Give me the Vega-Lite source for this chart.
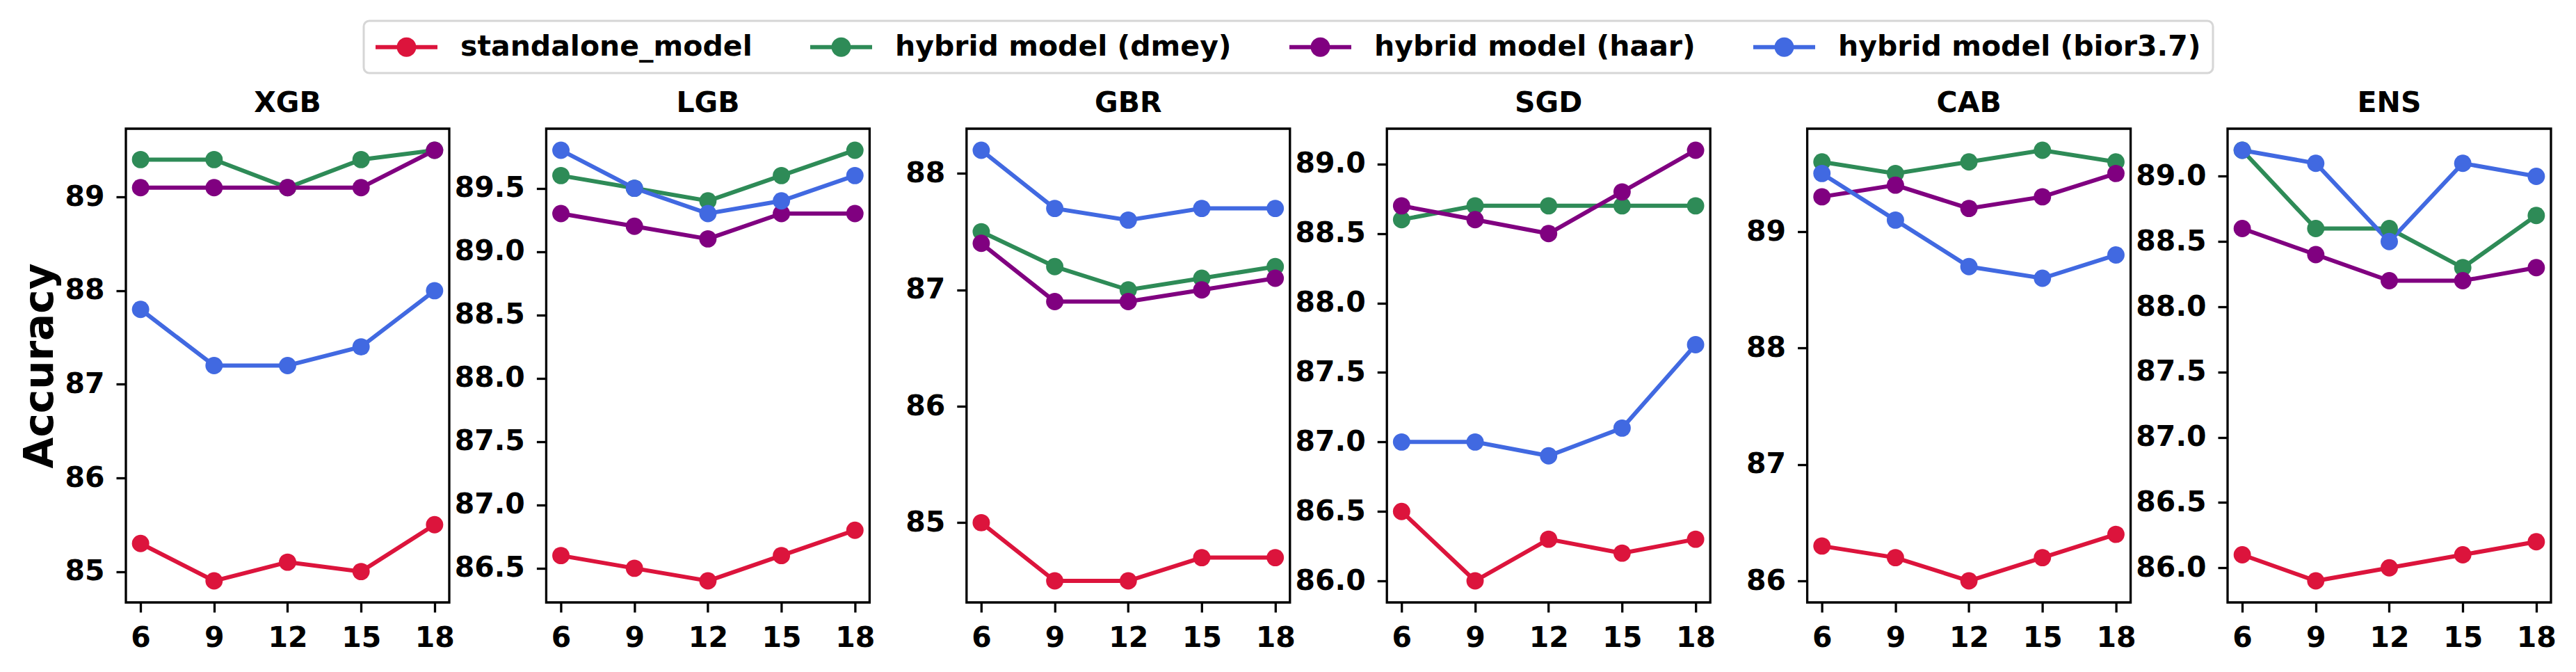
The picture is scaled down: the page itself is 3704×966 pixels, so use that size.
{
  "$schema": "https://vega.github.io/schema/vega-lite/v6.json",
  "background": "white",
  "padding": {"left": 28, "top": 28, "right": 38, "bottom": 30},
  "datasets": {
    "acc": [
      {"model": "XGB", "series": "standalone_model", "window": 6, "accuracy": 85.3},
      {"model": "XGB", "series": "standalone_model", "window": 9, "accuracy": 84.9},
      {"model": "XGB", "series": "standalone_model", "window": 12, "accuracy": 85.1},
      {"model": "XGB", "series": "standalone_model", "window": 15, "accuracy": 85.0},
      {"model": "XGB", "series": "standalone_model", "window": 18, "accuracy": 85.5},
      {"model": "XGB", "series": "hybrid model (dmey)", "window": 6, "accuracy": 89.4},
      {"model": "XGB", "series": "hybrid model (dmey)", "window": 9, "accuracy": 89.4},
      {"model": "XGB", "series": "hybrid model (dmey)", "window": 12, "accuracy": 89.1},
      {"model": "XGB", "series": "hybrid model (dmey)", "window": 15, "accuracy": 89.4},
      {"model": "XGB", "series": "hybrid model (dmey)", "window": 18, "accuracy": 89.5},
      {"model": "XGB", "series": "hybrid model (haar)", "window": 6, "accuracy": 89.1},
      {"model": "XGB", "series": "hybrid model (haar)", "window": 9, "accuracy": 89.1},
      {"model": "XGB", "series": "hybrid model (haar)", "window": 12, "accuracy": 89.1},
      {"model": "XGB", "series": "hybrid model (haar)", "window": 15, "accuracy": 89.1},
      {"model": "XGB", "series": "hybrid model (haar)", "window": 18, "accuracy": 89.5},
      {"model": "XGB", "series": "hybrid model (bior3.7)", "window": 6, "accuracy": 87.8},
      {"model": "XGB", "series": "hybrid model (bior3.7)", "window": 9, "accuracy": 87.2},
      {"model": "XGB", "series": "hybrid model (bior3.7)", "window": 12, "accuracy": 87.2},
      {"model": "XGB", "series": "hybrid model (bior3.7)", "window": 15, "accuracy": 87.4},
      {"model": "XGB", "series": "hybrid model (bior3.7)", "window": 18, "accuracy": 88.0},

      {"model": "LGB", "series": "standalone_model", "window": 6, "accuracy": 86.6},
      {"model": "LGB", "series": "standalone_model", "window": 9, "accuracy": 86.5},
      {"model": "LGB", "series": "standalone_model", "window": 12, "accuracy": 86.4},
      {"model": "LGB", "series": "standalone_model", "window": 15, "accuracy": 86.6},
      {"model": "LGB", "series": "standalone_model", "window": 18, "accuracy": 86.8},
      {"model": "LGB", "series": "hybrid model (dmey)", "window": 6, "accuracy": 89.6},
      {"model": "LGB", "series": "hybrid model (dmey)", "window": 9, "accuracy": 89.5},
      {"model": "LGB", "series": "hybrid model (dmey)", "window": 12, "accuracy": 89.4},
      {"model": "LGB", "series": "hybrid model (dmey)", "window": 15, "accuracy": 89.6},
      {"model": "LGB", "series": "hybrid model (dmey)", "window": 18, "accuracy": 89.8},
      {"model": "LGB", "series": "hybrid model (haar)", "window": 6, "accuracy": 89.3},
      {"model": "LGB", "series": "hybrid model (haar)", "window": 9, "accuracy": 89.2},
      {"model": "LGB", "series": "hybrid model (haar)", "window": 12, "accuracy": 89.1},
      {"model": "LGB", "series": "hybrid model (haar)", "window": 15, "accuracy": 89.3},
      {"model": "LGB", "series": "hybrid model (haar)", "window": 18, "accuracy": 89.3},
      {"model": "LGB", "series": "hybrid model (bior3.7)", "window": 6, "accuracy": 89.8},
      {"model": "LGB", "series": "hybrid model (bior3.7)", "window": 9, "accuracy": 89.5},
      {"model": "LGB", "series": "hybrid model (bior3.7)", "window": 12, "accuracy": 89.3},
      {"model": "LGB", "series": "hybrid model (bior3.7)", "window": 15, "accuracy": 89.4},
      {"model": "LGB", "series": "hybrid model (bior3.7)", "window": 18, "accuracy": 89.6},

      {"model": "GBR", "series": "standalone_model", "window": 6, "accuracy": 85.0},
      {"model": "GBR", "series": "standalone_model", "window": 9, "accuracy": 84.5},
      {"model": "GBR", "series": "standalone_model", "window": 12, "accuracy": 84.5},
      {"model": "GBR", "series": "standalone_model", "window": 15, "accuracy": 84.7},
      {"model": "GBR", "series": "standalone_model", "window": 18, "accuracy": 84.7},
      {"model": "GBR", "series": "hybrid model (dmey)", "window": 6, "accuracy": 87.5},
      {"model": "GBR", "series": "hybrid model (dmey)", "window": 9, "accuracy": 87.2},
      {"model": "GBR", "series": "hybrid model (dmey)", "window": 12, "accuracy": 87.0},
      {"model": "GBR", "series": "hybrid model (dmey)", "window": 15, "accuracy": 87.1},
      {"model": "GBR", "series": "hybrid model (dmey)", "window": 18, "accuracy": 87.2},
      {"model": "GBR", "series": "hybrid model (haar)", "window": 6, "accuracy": 87.4},
      {"model": "GBR", "series": "hybrid model (haar)", "window": 9, "accuracy": 86.9},
      {"model": "GBR", "series": "hybrid model (haar)", "window": 12, "accuracy": 86.9},
      {"model": "GBR", "series": "hybrid model (haar)", "window": 15, "accuracy": 87.0},
      {"model": "GBR", "series": "hybrid model (haar)", "window": 18, "accuracy": 87.1},
      {"model": "GBR", "series": "hybrid model (bior3.7)", "window": 6, "accuracy": 88.2},
      {"model": "GBR", "series": "hybrid model (bior3.7)", "window": 9, "accuracy": 87.7},
      {"model": "GBR", "series": "hybrid model (bior3.7)", "window": 12, "accuracy": 87.6},
      {"model": "GBR", "series": "hybrid model (bior3.7)", "window": 15, "accuracy": 87.7},
      {"model": "GBR", "series": "hybrid model (bior3.7)", "window": 18, "accuracy": 87.7},

      {"model": "SGD", "series": "standalone_model", "window": 6, "accuracy": 86.5},
      {"model": "SGD", "series": "standalone_model", "window": 9, "accuracy": 86.0},
      {"model": "SGD", "series": "standalone_model", "window": 12, "accuracy": 86.3},
      {"model": "SGD", "series": "standalone_model", "window": 15, "accuracy": 86.2},
      {"model": "SGD", "series": "standalone_model", "window": 18, "accuracy": 86.3},
      {"model": "SGD", "series": "hybrid model (dmey)", "window": 6, "accuracy": 88.6},
      {"model": "SGD", "series": "hybrid model (dmey)", "window": 9, "accuracy": 88.7},
      {"model": "SGD", "series": "hybrid model (dmey)", "window": 12, "accuracy": 88.7},
      {"model": "SGD", "series": "hybrid model (dmey)", "window": 15, "accuracy": 88.7},
      {"model": "SGD", "series": "hybrid model (dmey)", "window": 18, "accuracy": 88.7},
      {"model": "SGD", "series": "hybrid model (haar)", "window": 6, "accuracy": 88.7},
      {"model": "SGD", "series": "hybrid model (haar)", "window": 9, "accuracy": 88.6},
      {"model": "SGD", "series": "hybrid model (haar)", "window": 12, "accuracy": 88.5},
      {"model": "SGD", "series": "hybrid model (haar)", "window": 15, "accuracy": 88.8},
      {"model": "SGD", "series": "hybrid model (haar)", "window": 18, "accuracy": 89.1},
      {"model": "SGD", "series": "hybrid model (bior3.7)", "window": 6, "accuracy": 87.0},
      {"model": "SGD", "series": "hybrid model (bior3.7)", "window": 9, "accuracy": 87.0},
      {"model": "SGD", "series": "hybrid model (bior3.7)", "window": 12, "accuracy": 86.9},
      {"model": "SGD", "series": "hybrid model (bior3.7)", "window": 15, "accuracy": 87.1},
      {"model": "SGD", "series": "hybrid model (bior3.7)", "window": 18, "accuracy": 87.7},

      {"model": "CAB", "series": "standalone_model", "window": 6, "accuracy": 86.3},
      {"model": "CAB", "series": "standalone_model", "window": 9, "accuracy": 86.2},
      {"model": "CAB", "series": "standalone_model", "window": 12, "accuracy": 86.0},
      {"model": "CAB", "series": "standalone_model", "window": 15, "accuracy": 86.2},
      {"model": "CAB", "series": "standalone_model", "window": 18, "accuracy": 86.4},
      {"model": "CAB", "series": "hybrid model (dmey)", "window": 6, "accuracy": 89.6},
      {"model": "CAB", "series": "hybrid model (dmey)", "window": 9, "accuracy": 89.5},
      {"model": "CAB", "series": "hybrid model (dmey)", "window": 12, "accuracy": 89.6},
      {"model": "CAB", "series": "hybrid model (dmey)", "window": 15, "accuracy": 89.7},
      {"model": "CAB", "series": "hybrid model (dmey)", "window": 18, "accuracy": 89.6},
      {"model": "CAB", "series": "hybrid model (haar)", "window": 6, "accuracy": 89.3},
      {"model": "CAB", "series": "hybrid model (haar)", "window": 9, "accuracy": 89.4},
      {"model": "CAB", "series": "hybrid model (haar)", "window": 12, "accuracy": 89.2},
      {"model": "CAB", "series": "hybrid model (haar)", "window": 15, "accuracy": 89.3},
      {"model": "CAB", "series": "hybrid model (haar)", "window": 18, "accuracy": 89.5},
      {"model": "CAB", "series": "hybrid model (bior3.7)", "window": 6, "accuracy": 89.5},
      {"model": "CAB", "series": "hybrid model (bior3.7)", "window": 9, "accuracy": 89.1},
      {"model": "CAB", "series": "hybrid model (bior3.7)", "window": 12, "accuracy": 88.7},
      {"model": "CAB", "series": "hybrid model (bior3.7)", "window": 15, "accuracy": 88.6},
      {"model": "CAB", "series": "hybrid model (bior3.7)", "window": 18, "accuracy": 88.8},

      {"model": "ENS", "series": "standalone_model", "window": 6, "accuracy": 86.1},
      {"model": "ENS", "series": "standalone_model", "window": 9, "accuracy": 85.9},
      {"model": "ENS", "series": "standalone_model", "window": 12, "accuracy": 86.0},
      {"model": "ENS", "series": "standalone_model", "window": 15, "accuracy": 86.1},
      {"model": "ENS", "series": "standalone_model", "window": 18, "accuracy": 86.2},
      {"model": "ENS", "series": "hybrid model (dmey)", "window": 6, "accuracy": 89.2},
      {"model": "ENS", "series": "hybrid model (dmey)", "window": 9, "accuracy": 88.6},
      {"model": "ENS", "series": "hybrid model (dmey)", "window": 12, "accuracy": 88.6},
      {"model": "ENS", "series": "hybrid model (dmey)", "window": 15, "accuracy": 88.3},
      {"model": "ENS", "series": "hybrid model (dmey)", "window": 18, "accuracy": 88.7},
      {"model": "ENS", "series": "hybrid model (haar)", "window": 6, "accuracy": 88.6},
      {"model": "ENS", "series": "hybrid model (haar)", "window": 9, "accuracy": 88.4},
      {"model": "ENS", "series": "hybrid model (haar)", "window": 12, "accuracy": 88.2},
      {"model": "ENS", "series": "hybrid model (haar)", "window": 15, "accuracy": 88.2},
      {"model": "ENS", "series": "hybrid model (haar)", "window": 18, "accuracy": 88.3},
      {"model": "ENS", "series": "hybrid model (bior3.7)", "window": 6, "accuracy": 89.2},
      {"model": "ENS", "series": "hybrid model (bior3.7)", "window": 9, "accuracy": 89.1},
      {"model": "ENS", "series": "hybrid model (bior3.7)", "window": 12, "accuracy": 88.5},
      {"model": "ENS", "series": "hybrid model (bior3.7)", "window": 15, "accuracy": 89.1},
      {"model": "ENS", "series": "hybrid model (bior3.7)", "window": 18, "accuracy": 89.0}
    ]
  },
  "spacing": 139.4,
  "bounds": "flush",
  "resolve": {"scale": {"color": "shared", "x": "independent", "y": "independent"}},
  "hconcat": [
    {
      "title": "XGB",
      "width": 465, "height": 681,
      "data": {"name": "acc"},
      "transform": [{"filter": "datum.model === 'XGB'"}],
      "encoding": {
        "x": {"field": "window", "type": "quantitative", "scale": {"domain": [5.4, 18.6], "nice": false, "zero": false}, "axis": {"values": [6, 9, 12, 15, 18], "title": null}},
        "y": {"field": "accuracy", "type": "quantitative", "scale": {"domain": [84.67, 89.73], "nice": false, "zero": false}, "axis": {"values": [85, 86, 87, 88, 89], "format": "d", "title": "Accuracy", "titleFontSize": 58, "titleFontWeight": "bold", "titlePadding": 5}},
        "color": {"field": "series", "type": "nominal", "scale": {"domain": ["standalone_model", "hybrid model (dmey)", "hybrid model (haar)", "hybrid model (bior3.7)"], "range": ["#DC143C", "#2E8B57", "#800080", "#4169E1"]}, "legend": {"title": null}}
      },
      "layer": [
        {"mark": {"type": "line", "strokeWidth": 6}},
        {"mark": {"type": "point", "filled": true, "size": 620, "opacity": 1}}
      ]
    },
    {
      "title": "LGB",
      "width": 465, "height": 681,
      "data": {"name": "acc"},
      "transform": [{"filter": "datum.model === 'LGB'"}],
      "encoding": {
        "x": {"field": "window", "type": "quantitative", "scale": {"domain": [5.4, 18.6], "nice": false, "zero": false}, "axis": {"values": [6, 9, 12, 15, 18], "title": null}},
        "y": {"field": "accuracy", "type": "quantitative", "scale": {"domain": [86.23, 89.97], "nice": false, "zero": false}, "axis": {"values": [86.5, 87.0, 87.5, 88.0, 88.5, 89.0, 89.5], "format": ".1f", "title": null}},
        "color": {"field": "series", "type": "nominal", "scale": {"domain": ["standalone_model", "hybrid model (dmey)", "hybrid model (haar)", "hybrid model (bior3.7)"], "range": ["#DC143C", "#2E8B57", "#800080", "#4169E1"]}, "legend": {"title": null}}
      },
      "layer": [
        {"mark": {"type": "line", "strokeWidth": 6}},
        {"mark": {"type": "point", "filled": true, "size": 620, "opacity": 1}}
      ]
    },
    {
      "title": "GBR",
      "width": 465, "height": 681,
      "data": {"name": "acc"},
      "transform": [{"filter": "datum.model === 'GBR'"}],
      "encoding": {
        "x": {"field": "window", "type": "quantitative", "scale": {"domain": [5.4, 18.6], "nice": false, "zero": false}, "axis": {"values": [6, 9, 12, 15, 18], "title": null}},
        "y": {"field": "accuracy", "type": "quantitative", "scale": {"domain": [84.315, 88.385], "nice": false, "zero": false}, "axis": {"values": [85, 86, 87, 88], "format": "d", "title": null}},
        "color": {"field": "series", "type": "nominal", "scale": {"domain": ["standalone_model", "hybrid model (dmey)", "hybrid model (haar)", "hybrid model (bior3.7)"], "range": ["#DC143C", "#2E8B57", "#800080", "#4169E1"]}, "legend": {"title": null}}
      },
      "layer": [
        {"mark": {"type": "line", "strokeWidth": 6}},
        {"mark": {"type": "point", "filled": true, "size": 620, "opacity": 1}}
      ]
    },
    {
      "title": "SGD",
      "width": 465, "height": 681,
      "data": {"name": "acc"},
      "transform": [{"filter": "datum.model === 'SGD'"}],
      "encoding": {
        "x": {"field": "window", "type": "quantitative", "scale": {"domain": [5.4, 18.6], "nice": false, "zero": false}, "axis": {"values": [6, 9, 12, 15, 18], "title": null}},
        "y": {"field": "accuracy", "type": "quantitative", "scale": {"domain": [85.845, 89.255], "nice": false, "zero": false}, "axis": {"values": [86.0, 86.5, 87.0, 87.5, 88.0, 88.5, 89.0], "format": ".1f", "title": null}},
        "color": {"field": "series", "type": "nominal", "scale": {"domain": ["standalone_model", "hybrid model (dmey)", "hybrid model (haar)", "hybrid model (bior3.7)"], "range": ["#DC143C", "#2E8B57", "#800080", "#4169E1"]}, "legend": {"title": null}}
      },
      "layer": [
        {"mark": {"type": "line", "strokeWidth": 6}},
        {"mark": {"type": "point", "filled": true, "size": 620, "opacity": 1}}
      ]
    },
    {
      "title": "CAB",
      "width": 465, "height": 681,
      "data": {"name": "acc"},
      "transform": [{"filter": "datum.model === 'CAB'"}],
      "encoding": {
        "x": {"field": "window", "type": "quantitative", "scale": {"domain": [5.4, 18.6], "nice": false, "zero": false}, "axis": {"values": [6, 9, 12, 15, 18], "title": null}},
        "y": {"field": "accuracy", "type": "quantitative", "scale": {"domain": [85.815, 89.885], "nice": false, "zero": false}, "axis": {"values": [86, 87, 88, 89], "format": "d", "title": null}},
        "color": {"field": "series", "type": "nominal", "scale": {"domain": ["standalone_model", "hybrid model (dmey)", "hybrid model (haar)", "hybrid model (bior3.7)"], "range": ["#DC143C", "#2E8B57", "#800080", "#4169E1"]}, "legend": {"title": null}}
      },
      "layer": [
        {"mark": {"type": "line", "strokeWidth": 6}},
        {"mark": {"type": "point", "filled": true, "size": 620, "opacity": 1}}
      ]
    },
    {
      "title": "ENS",
      "width": 465, "height": 681,
      "data": {"name": "acc"},
      "transform": [{"filter": "datum.model === 'ENS'"}],
      "encoding": {
        "x": {"field": "window", "type": "quantitative", "scale": {"domain": [5.4, 18.6], "nice": false, "zero": false}, "axis": {"values": [6, 9, 12, 15, 18], "title": null}},
        "y": {"field": "accuracy", "type": "quantitative", "scale": {"domain": [85.735, 89.365], "nice": false, "zero": false}, "axis": {"values": [86.0, 86.5, 87.0, 87.5, 88.0, 88.5, 89.0], "format": ".1f", "title": null}},
        "color": {"field": "series", "type": "nominal", "scale": {"domain": ["standalone_model", "hybrid model (dmey)", "hybrid model (haar)", "hybrid model (bior3.7)"], "range": ["#DC143C", "#2E8B57", "#800080", "#4169E1"]}, "legend": {"title": null}}
      },
      "layer": [
        {"mark": {"type": "line", "strokeWidth": 6}},
        {"mark": {"type": "point", "filled": true, "size": 620, "opacity": 1}}
      ]
    }
  ],
  "config": {
    "font": "DejaVu Sans",
    "view": {"stroke": "black", "strokeWidth": 3.3},
    "axis": {
      "grid": false, "domain": false,
      "labelFont": "DejaVu Sans", "labelFontSize": 41, "labelFontWeight": "bold", "labelColor": "black",
      "labelPadding": 17, "labelFlush": false, "labelOverlap": false,
      "tickColor": "black", "tickSize": 14, "tickWidth": 3.3,
      "titleFont": "DejaVu Sans", "titleFontSize": 58, "titleFontWeight": "bold", "titleColor": "black", "titlePadding": 5
    },
    "title": {"font": "DejaVu Sans", "fontSize": 41, "fontWeight": "bold", "color": "black", "baseline": "bottom", "offset": 15, "anchor": "middle", "frame": "group"},
    "legend": {
      "orient": "none", "direction": "horizontal", "legendX": 342, "legendY": -155,
      "labelFont": "DejaVu Sans", "labelFontSize": 41, "labelFontWeight": "bold", "labelColor": "black", "labelLimit": 2000,
      "labelOffset": 81, "columnPadding": 83,
      "symbolType": "M-1,-0.151H3.341V0.151H-1Z M0.488,0A0.683,0.683,0,1,1,1.854,0A0.683,0.683,0,1,1,0.488,0Z",
      "symbolSize": 1681, "symbolStrokeWidth": 0, "symbolOpacity": 1,
      "padding": 17, "strokeColor": "#d6d6d6", "strokeWidth": 3, "fillColor": "white", "cornerRadius": 8
    }
  }
}
